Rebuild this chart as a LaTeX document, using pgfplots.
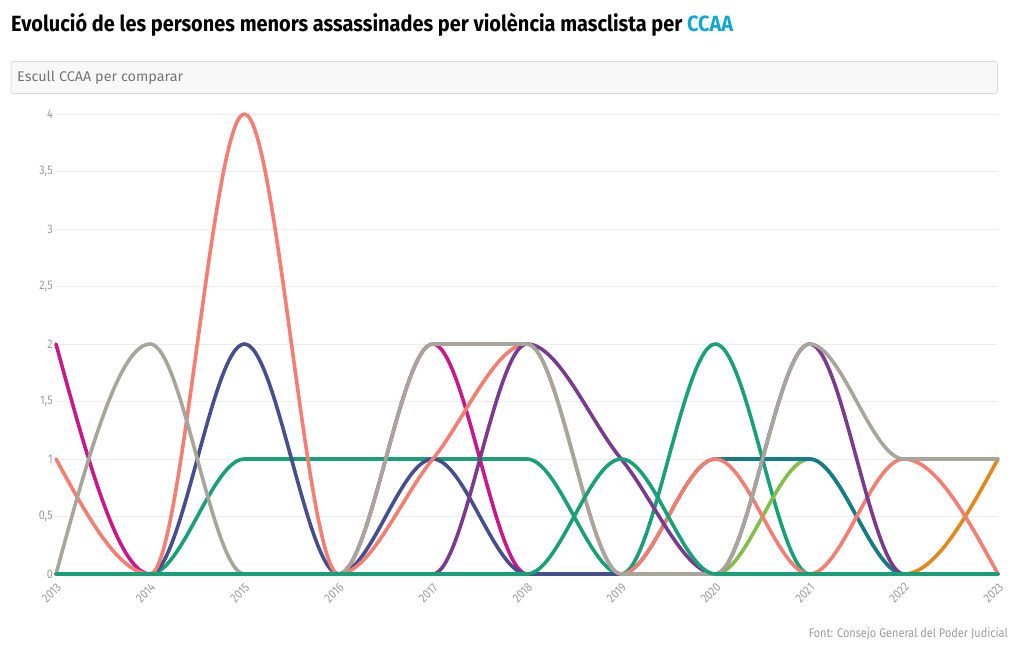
\documentclass[border=0pt]{standalone}
\usepackage{pgfplots}
\pgfplotsset{compat=1.18}
\usepackage{pgfplotstable}
\usepackage{fontspec}
\usepackage{graphicx}
\setmainfont{Fira Sans}
\newfontfamily\condfont[FakeStretch=0.86]{Fira Sans}

\definecolor{cpink}{HTML}{C8198C}
\definecolor{csalmon}{HTML}{F47E72}
\definecolor{cnavy}{HTML}{464F8E}
\definecolor{cgreen}{HTML}{18A078}
\definecolor{cgray}{HTML}{A8A69B}
\definecolor{cpurple}{HTML}{7A3B8F}
\definecolor{cteal}{HTML}{137C86}
\definecolor{clgreen}{HTML}{82BE4A}
\definecolor{corange}{HTML}{E3861C}
\definecolor{ccyan}{HTML}{12A5DB}
\definecolor{gridc}{HTML}{ECECEC}
\definecolor{tickc}{HTML}{9C9C9C}
\definecolor{boxline}{HTML}{D9D9D9}
\definecolor{boxfill}{HTML}{F8F8F8}
\definecolor{phc}{HTML}{757575}

% monotone cubic interpolation (same idea as d3 curveMonotoneX)
\makeatletter
\newcount\mono@n
\def\mono@segment{%
  \pgfmathparse{(\mono@xb-\mono@xa)/3}\let\mono@dx\pgfmathresult
  \pgfmathparse{\mono@xa+\mono@dx}\let\mono@cax\pgfmathresult
  \pgfmathparse{\mono@ya+\mono@dx*\mono@ta}\let\mono@cay\pgfmathresult
  \pgfmathparse{\mono@xb-\mono@dx}\let\mono@cbx\pgfmathresult
  \pgfmathparse{\mono@yb-\mono@dx*\mono@tb}\let\mono@cby\pgfmathresult
  \pgfpathcurveto{\pgfqpoint{\mono@cax pt}{\mono@cay pt}}%
    {\pgfqpoint{\mono@cbx pt}{\mono@cby pt}}%
    {\pgfqpoint{\mono@xb pt}{\mono@yb pt}}%
}
\def\mono@start{\global\mono@n=0 }
\def\mono@point#1{%
  \pgf@process{#1}%
  \edef\mono@nx{\pgf@sys@tonumber\pgf@x}%
  \edef\mono@ny{\pgf@sys@tonumber\pgf@y}%
  \ifcase\mono@n
    \global\let\mono@xa\mono@nx \global\let\mono@ya\mono@ny
    \pgfpathmoveto{\pgfqpoint{\mono@xa pt}{\mono@ya pt}}%
  \or
    \global\let\mono@xb\mono@nx \global\let\mono@yb\mono@ny
  \else
    \pgfmathparse{(\mono@yb-\mono@ya)/(\mono@xb-\mono@xa)}\let\mono@sa\pgfmathresult
    \pgfmathparse{(\mono@ny-\mono@yb)/(\mono@nx-\mono@xb)}\let\mono@sb\pgfmathresult
    \pgfmathparse{(\mono@sa*(\mono@nx-\mono@xb)+\mono@sb*(\mono@xb-\mono@xa))/(\mono@nx-\mono@xa)}\let\mono@p\pgfmathresult
    \pgfmathparse{(\mono@sa<0 ? -1 : 1)+(\mono@sb<0 ? -1 : 1)}\let\mono@sg\pgfmathresult
    \pgfmathparse{\mono@sg*min(abs(\mono@sa),abs(\mono@sb),0.5*abs(\mono@p))}\global\let\mono@tb\pgfmathresult
    \ifnum\mono@n=2
      \pgfmathparse{(3*\mono@sa-\mono@tb)/2}\global\let\mono@ta\pgfmathresult
    \fi
    \mono@segment
    \global\let\mono@xa\mono@xb \global\let\mono@ya\mono@yb
    \global\let\mono@xb\mono@nx \global\let\mono@yb\mono@ny
    \global\let\mono@ta\mono@tb
  \fi
  \global\advance\mono@n by 1
}
\def\mono@end{%
  \ifnum\mono@n=2
    \pgfpathlineto{\pgfqpoint{\mono@xb pt}{\mono@yb pt}}%
  \else\ifnum\mono@n>2
    \pgfmathparse{(3*(\mono@yb-\mono@ya)/(\mono@xb-\mono@xa)-\mono@ta)/2}\global\let\mono@tb\pgfmathresult
    \mono@segment
  \fi\fi
  \global\mono@n=0
}
\pgfdeclareplothandler{\pgfplothandlermonotone}{}{%
  start macro=\mono@start,
  point macro=\mono@point,
  jump macro=\mono@end,
  end macro=\mono@end,
}
\tikzset{monotone/.code={\let\tikz@plot@handler=\pgfplothandlermonotone}}
\makeatother

\pgfplotstableread{
year pink salmon navy greenA greenB greenC gray purple teal lgreen orange
2013 2 1 0 0 0 0 0 0 0 0 0
2014 0 0 0 0 0 0 2 0 0 0 0
2015 0 4 2 1 0 0 0 0 0 0 0
2016 0 0 0 1 0 0 0 0 0 0 0
2017 2 1 1 1 0 0 2 0 0 0 0
2018 0 2 0 1 0 0 2 2 0 0 0
2019 0 0 0 0 1 0 0 1 0 0 0
2020 0 1 0 0 0 2 0 0 1 0 0
2021 0 0 0 0 0 0 2 2 1 1 0
2022 0 1 0 0 0 0 1 0 0 0 0
2023 0 0 0 0 0 0 1 0 0 0 1
}\ccaa

\begin{document}
\begin{tikzpicture}
\path[use as bounding box] (0,0) rectangle (1020bp,-650bp);
\node[anchor=base west, inner sep=0] at (11bp,-32bp)
  {\resizebox{722bp}{\height}{\fontsize{22bp}{24bp}\selectfont\bfseries Evolució de les persones menors assassinades per violència masclista per \textcolor{ccyan}{CCAA}}};
\draw[draw=boxline, fill=boxfill, rounded corners=2bp, line width=0.8bp] (11bp,-61.5bp) rectangle (997.5bp,-93.5bp);
\node[anchor=base west, inner sep=0, text=phc] at (17bp,-81bp)
  {\resizebox{166bp}{\height}{\fontsize{14bp}{16bp}\selectfont Escull CCAA per comparar}};
\node[anchor=base east, inner sep=0, text=tickc] at (1008bp,-637bp)
  {\resizebox{199bp}{\height}{\fontsize{12.5bp}{14bp}\selectfont Font: Consejo General del Poder Judicial}};
\begin{axis}[
    at={(56bp,-574bp)}, anchor=south west,
    scale only axis, width=942bp, height=460bp,
    xmin=2013, xmax=2023, ymin=0, ymax=4,
    xtick={2013,...,2023}, ytick={0,0.5,...,4},
    clip=false,
    axis line style={draw=none},
    major tick length=0pt,
    ymajorgrids, grid style={color=gridc, line width=0.8bp},
    ticklabel style={font=\condfont\fontsize{12.5bp}{13bp}\selectfont, text=tickc},
    yticklabel style={anchor=east, inner sep=0pt, xshift=-3bp},
    xticklabel style={xshift=-4.5bp, yshift=-19bp, rotate=45, anchor=center, inner sep=0pt},
    /pgf/number format/use comma,
    /pgf/number format/1000 sep={},
    /pgf/number format/assume math mode=true,
    every axis plot/.append style={line width=3.6bp, line join=round, line cap=round, no markers},
]
\addplot[cgreen, monotone] table[x=year, y=greenA] {\ccaa};
\addplot[cgreen, monotone] table[x=year, y=greenC] {\ccaa};
\addplot[clgreen, monotone] table[x=year, y=lgreen] {\ccaa};
\addplot[cteal, monotone] table[x=year, y=teal] {\ccaa};
\addplot[corange, monotone] table[x=year, y=orange] {\ccaa};
\addplot[cpink, monotone] table[x=year, y=pink] {\ccaa};
\addplot[cnavy, monotone] table[x=year, y=navy] {\ccaa};
\addplot[csalmon, monotone] table[x=year, y=salmon] {\ccaa};
\addplot[cpurple, monotone] table[x=year, y=purple] {\ccaa};
\addplot[cgray, monotone] table[x=year, y=gray] {\ccaa};
\addplot[cgreen, monotone] table[x=year, y=greenB] {\ccaa};
\end{axis}
\end{tikzpicture}
\end{document}
